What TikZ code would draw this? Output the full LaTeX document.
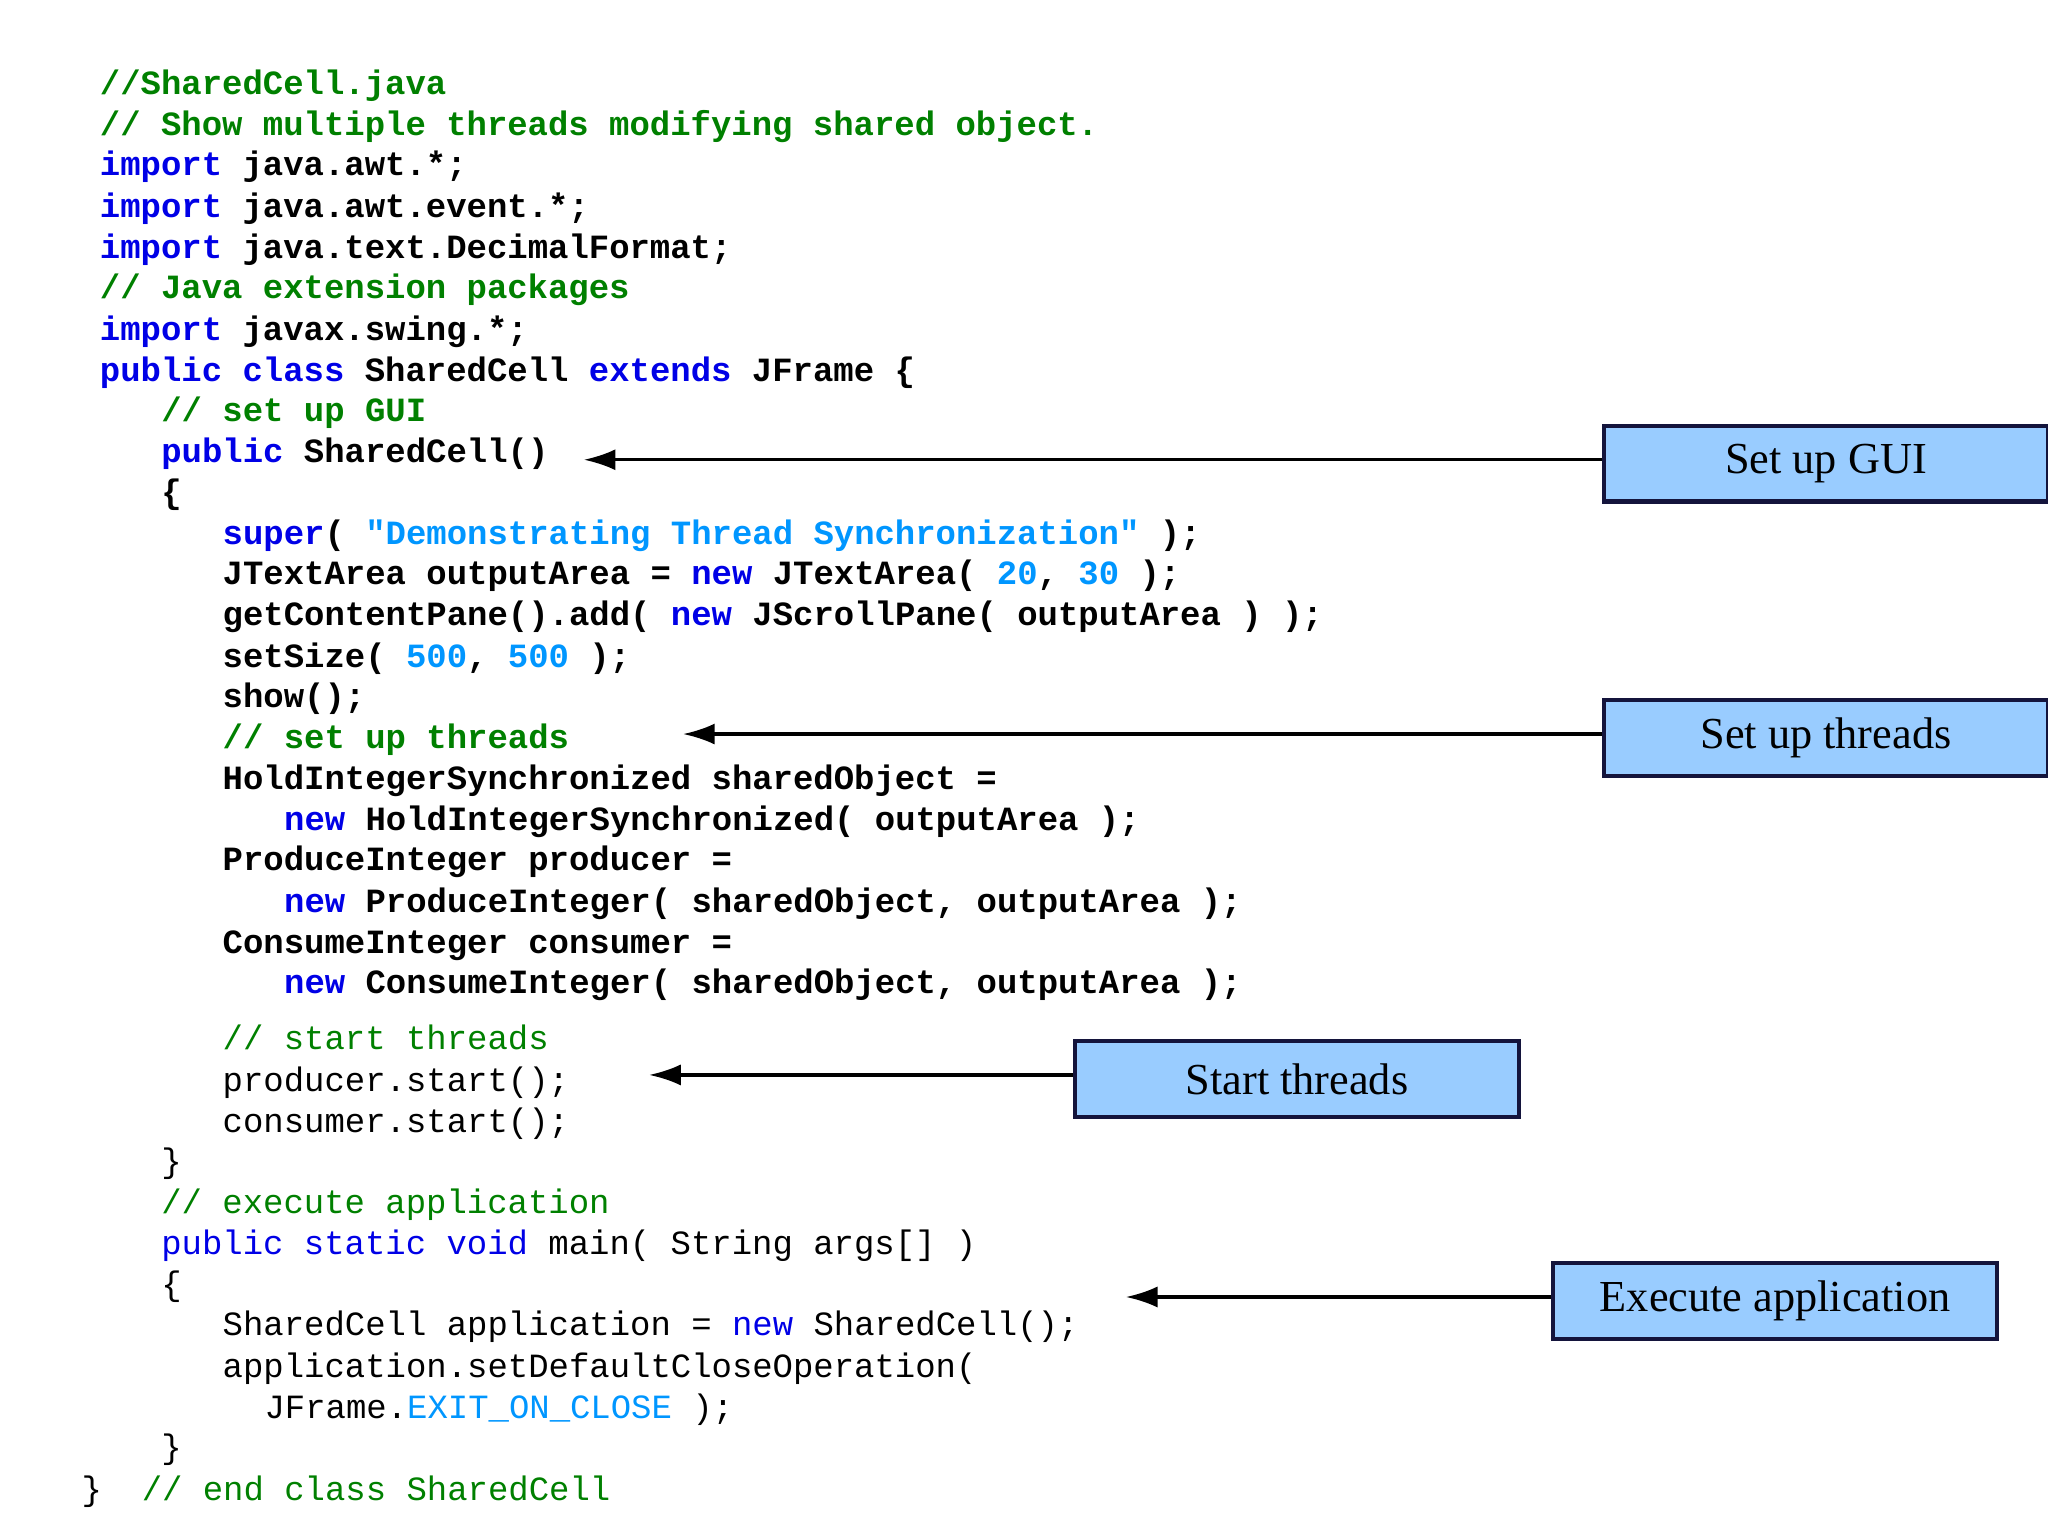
\documentclass[tikz,border=0pt]{standalone}
\usepackage{fontspec}
\setmainfont{Liberation Serif}
\setmonofont{Liberation Mono}
\usetikzlibrary{arrows.meta}
\definecolor{cgreen}{RGB}{0,128,0}
\definecolor{ckw}{RGB}{0,0,230}
\definecolor{clit}{RGB}{0,150,255}
\definecolor{boxfill}{RGB}{153,204,255}
\definecolor{boxline}{RGB}{20,20,60}
\newcommand{\Kw}[1]{\textcolor{ckw}{#1}}
\newcommand{\Cm}[1]{\textcolor{cgreen}{#1}}
\newcommand{\Lt}[1]{\textcolor{clit}{#1}}
\begin{document}
\begin{tikzpicture}[x=0.013061cm,y=-0.013061cm,
  code/.style={anchor=west,inner sep=0pt,text height=0.75em,text depth=0.25em,font=\fontsize{9.66pt}{11pt}\ttfamily\bfseries},
  codel/.style={code,font=\fontsize{9.66pt}{11pt}\ttfamily},
  note/.style={draw=boxline,line width=1.2pt,fill=boxfill,minimum width=340*0.013061cm,minimum height=58*0.013061cm,inner sep=0pt,font=\fontsize{12.6pt}{14pt}\selectfont},
  arr/.style={-{Latex[length=9pt,width=6pt]},line width=0.9pt}]
\useasboundingbox (0,0) rectangle (1568,1176);
\node[code] (l1) at (76,66) {\Cm{//SharedCell.java}};
\node[code] (l2) at (76,97) {\Cm{// Show multiple threads modifying shared object.}};
\node[code] (l3) at (76,128) {\Kw{import} java.awt.*;};
\node[code] (l4) at (76,160) {\Kw{import} java.awt.event.*;};
\node[code] (l5) at (76,191) {\Kw{import} java.text.DecimalFormat;};
\node[code] (l6) at (76,222) {\Cm{// Java extension packages}};
\node[code] (l7) at (76,254) {\Kw{import} javax.swing.*;};
\node[code] (l8) at (76,285) {\Kw{public} \Kw{class} SharedCell \Kw{extends} JFrame \{};
\node[code] (l9) at (123,316) {\Cm{// set up GUI}};
\node[code] (l10) at (123,347) {\Kw{public} SharedCell()};
\node[code] (l11) at (123,379) {\{};
\node[code] (l12) at (170,410) {\Kw{super}( \Lt{"Demonstrating Thread Synchronization"} );};
\node[code] (l13) at (170,441) {JTextArea outputArea = \Kw{new} JTextArea( \Lt{20}, \Lt{30} );};
\node[code] (l14) at (170,472) {getContentPane().add( \Kw{new} JScrollPane( outputArea ) );};
\node[code] (l15) at (170,504) {setSize( \Lt{500}, \Lt{500} );};
\node[code] (l16) at (170,535) {show();};
\node[code] (l17) at (170,566) {\Cm{// set up threads}};
\node[code] (l18) at (170,598) {HoldIntegerSynchronized sharedObject =};
\node[code] (l19) at (217,629) {\Kw{new} HoldIntegerSynchronized( outputArea );};
\node[code] (l20) at (170,660) {ProduceInteger producer =};
\node[code] (l21) at (217,692) {\Kw{new} ProduceInteger( sharedObject, outputArea );};
\node[code] (l22) at (170,723) {ConsumeInteger consumer =};
\node[code] (l23) at (217,754) {\Kw{new} ConsumeInteger( sharedObject, outputArea );};
\node[codel] (l24) at (170,797) {\Cm{// start threads}};
\node[codel] (l25) at (170,829) {producer.start();};
\node[codel] (l26) at (170,860) {consumer.start();};
\node[codel] (l27) at (123,891) {\}};
\node[codel] (l28) at (123,922) {\Cm{// execute application}};
\node[codel] (l29) at (123,954) {\Kw{public} \Kw{static} \Kw{void} main( String args[] )};
\node[codel] (l30) at (123,985) {\{};
\node[codel] (l31) at (170,1016) {SharedCell application = \Kw{new} SharedCell();};
\node[codel] (l32) at (170,1048) {application.setDefaultCloseOperation(};
\node[codel] (l33) at (202,1079) {JFrame.\Lt{EXIT\_ON\_CLOSE} );};
\node[codel] (l34) at (123,1110) {\}};
\node[codel] (l35) at (62,1142) {\}};
\node[codel] (l36) at (108,1142) {\Cm{// end class SharedCell}};
\node[note] (b1) at (1398,355) {Set up GUI};
\node[note] (b2) at (1398,565) {Set up threads};
\node[note] (b3) at (993,826) {Start threads};
\node[note] (b4) at (1359,996) {Execute application};
\coordinate (t1) at (447,352);
\coordinate (t2) at (523,562);
\coordinate (t3) at (497,823);
\coordinate (t4) at (862,993);
\draw[arr] (b1.west |- t1) -- (t1);
\draw[arr] (b2.west |- t2) -- (t2);
\draw[arr] (b3.west |- t3) -- (t3);
\draw[arr] (b4.west |- t4) -- (t4);
\end{tikzpicture}
\end{document}
